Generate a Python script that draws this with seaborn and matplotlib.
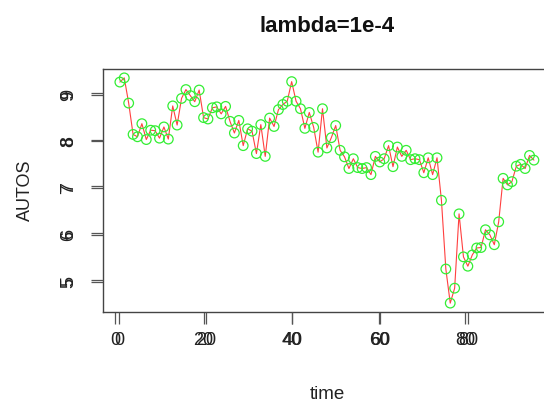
import numpy as np
import pandas as pd
import matplotlib
matplotlib.use('Agg')
import matplotlib.pyplot as plt
import seaborn as sns

# AUTOS series (time = 1..95)
autos = [9.27, 9.36, 8.82, 8.15, 8.10, 8.38, 8.04, 8.24, 8.23, 8.07,
         8.31, 8.05, 8.76, 8.35, 8.92, 9.11, 8.98, 8.85, 9.10, 8.51,
         8.48, 8.72, 8.74, 8.59, 8.75, 8.43, 8.18, 8.45, 7.91, 8.27,
         8.22, 7.74, 8.36, 7.68, 8.50, 8.32, 8.68, 8.79, 8.86, 9.28,
         8.86, 8.70, 8.28, 8.62, 8.30, 7.77, 8.70, 7.86, 8.08, 8.34,
         7.81, 7.67, 7.42, 7.63, 7.44, 7.42, 7.44, 7.29, 7.68, 7.56,
         7.63, 7.91, 7.46, 7.88, 7.68, 7.81, 7.61, 7.63, 7.61, 7.33,
         7.65, 7.29, 7.65, 6.74, 5.27, 4.54, 4.86, 6.45, 5.53, 5.33,
         5.57, 5.72, 5.73, 6.11, 6.00, 5.79, 6.28, 7.21, 7.07, 7.14,
         7.47, 7.51, 7.42, 7.70, 7.60]
time = list(range(1, len(autos) + 1))
xticks = [0, 20, 40, 60, 80]
yticks = [5, 6, 7, 8, 9]

df = pd.DataFrame({'time': time, 'AUTOS': autos})

sns.set_style('ticks')
plt.rcParams['font.family'] = ['Liberation Sans', 'DejaVu Sans']

W, H = 544, 406
fig = plt.figure(figsize=(W / 100, H / 100), dpi=100)
left, right, top, bottom = 103.3, 550.5, 70, 313
rect = [left / W, (H - bottom) / H, (right - left) / W, (bottom - top) / H]


def style_ticks(a):
    a.set_xticks(xticks)
    a.set_yticks(yticks)
    a.tick_params(axis='both', direction='out', length=8.6, width=0.9, color='#555555',
                  labelsize=13, labelcolor='#222222', bottom=True, left=True)
    a.tick_params(axis='x', pad=5)
    a.tick_params(axis='y', pad=10, labelrotation=90)
    for lab in a.get_yticklabels():
        lab.set_va('center')


ax = fig.add_axes(rect)
sns.lineplot(data=df, x='time', y='AUTOS', ax=ax, color='#ff4040', lw=0.8)
sns.scatterplot(data=df, x='time', y='AUTOS', ax=ax, marker='o', s=48,
                facecolor='none', edgecolor='#33ee33', linewidth=0.9, zorder=3)
ax.set_xlim(-2.76, 98.76)
ax.set_ylim(4.35, 9.55)
ax.set_xlabel('')
ax.set_ylabel('')
for s in ax.spines.values():
    s.set_visible(True)
    s.set_color('#444444')
    s.set_linewidth(1.0)
style_ticks(ax)

# second (slightly shifted) axis layer, as in the reference
ghost = fig.add_axes(rect)
ghost.patch.set_visible(False)
for s in ghost.spines.values():
    s.set_visible(False)
ghost.set_xlim(-3.70, 99.7)
ghost.set_ylim(4.303, 9.515)
style_ticks(ghost)

fig.text(327 / W, 1 - 31.7 / H, 'lambda=1e-4', ha='center', va='baseline',
         fontsize=16, fontweight='bold', color='#111111')
fig.text(327 / W, 1 - 395 / H, 'time', ha='center', va='center', fontsize=13.5, color='#222222')
fig.text(25 / W, 1 - 190 / H, 'AUTOS', ha='center', va='center', rotation=90,
         fontsize=13, color='#222222')

fig.savefig('out.png', dpi=100)
